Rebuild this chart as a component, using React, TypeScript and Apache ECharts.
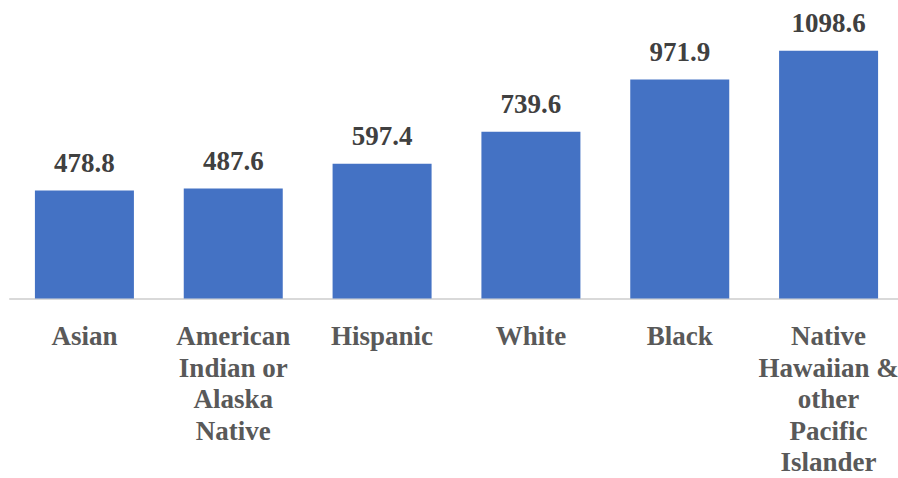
import React, { useEffect, useRef } from "react";
import * as echarts from "echarts";

const categories = [
  "Asian",
  "American\nIndian or\nAlaska\nNative",
  "Hispanic",
  "White",
  "Black",
  "Native\nHawaiian &\nother\nPacific\nIslander",
];
const values = [478.8, 487.6, 597.4, 739.6, 971.9, 1098.6];

export default function App() {
  const ref = useRef<HTMLDivElement>(null);
  useEffect(() => {
    document.body.style.margin = "0";
    document.body.style.overflow = "hidden";
    const chart = echarts.init(ref.current!, null, { renderer: "svg" });
    chart.setOption({
      animation: false,
      backgroundColor: "#ffffff",
      grid: { left: 10, width: 893, top: 28, bottom: 174, containLabel: false },
      xAxis: {
        type: "category",
        data: categories,
        axisTick: { show: false },
        axisLine: { show: true, lineStyle: { color: "#d9d9d9", width: 2 } },
        axisLabel: {
          interval: 0,
          margin: 22,
          color: "#595959",
          fontFamily: "Liberation Serif",
          fontWeight: "bold",
          fontSize: 27,
          lineHeight: 31.5,
        },
      },
      yAxis: {
        type: "value",
        min: 0,
        max: 1200,
        show: false,
        splitLine: { show: false },
      },
      series: [
        {
          type: "bar",
          data: values,
          barWidth: 99,
          itemStyle: { color: "#4472C4" },
          label: {
            show: true,
            position: "top",
            distance: 14,
            color: "#404040",
            fontFamily: "Liberation Serif",
            fontWeight: "bold",
            fontSize: 27,
            formatter: (p: any) => p.value.toFixed(1),
          },
        },
      ],
    });
    return () => chart.dispose();
  }, []);
  return <div ref={ref} style={{ width: 910, height: 478 }} />;
}
